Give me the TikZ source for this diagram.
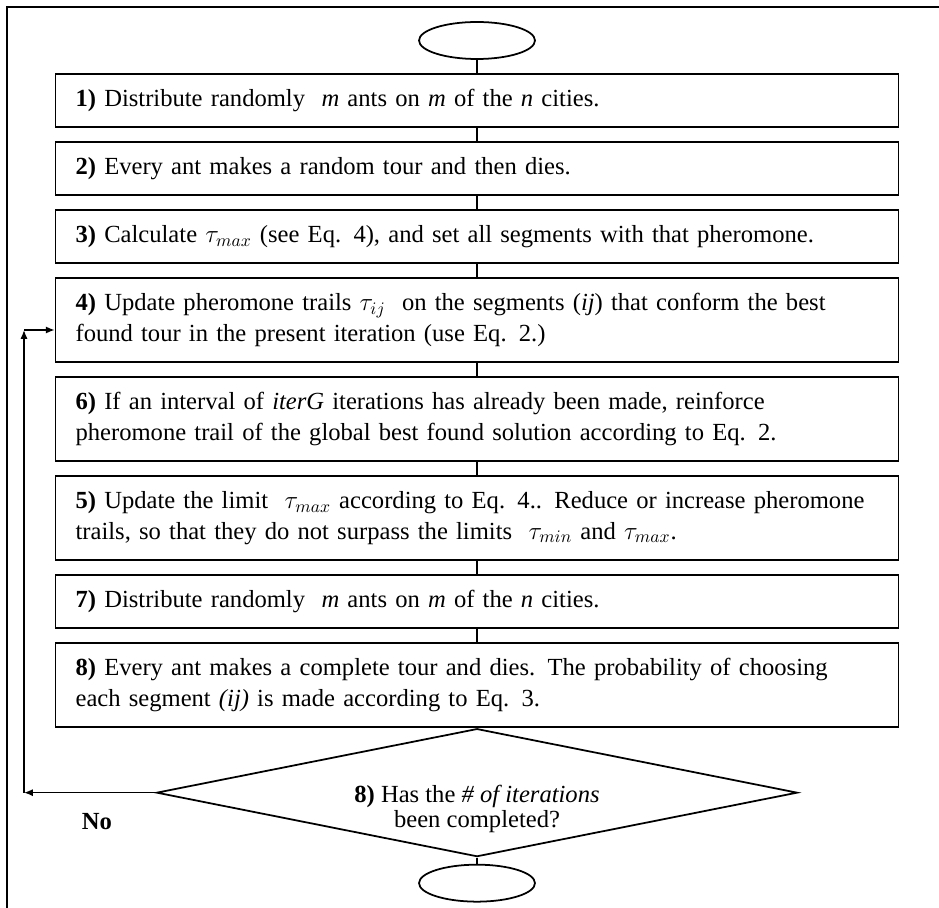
\documentclass[tikz,border=0pt]{standalone}
\usepackage{fontspec}
\setmainfont{Liberation Serif}
\usetikzlibrary{positioning}
\usetikzlibrary{shapes.geometric}
\usetikzlibrary{chains}
\usetikzlibrary{arrows.meta}

\begin{document}
\begin{tikzpicture} [x=0.02cm, y=-0.02cm, start chain=going below, node distance=0.265cm,
  every join/.style={line width=0.8pt},
  stepbox/.style={draw, line width=1pt, text width=16.06cm,
    inner xsep=0.4cm, inner ysep=0pt, align=left, font=\fontsize{14}{17.5}\selectfont},
  onebox/.style={stepbox, minimum height=1.06cm},
  twobox/.style={stepbox, minimum height=1.68cm},
  term/.style={draw, ellipse, line width=1pt, minimum width=2.32cm, minimum height=0.74cm},
  >={Latex[length=5pt,width=4pt]}]

\useasboundingbox (0,0) rectangle (939,908);
\draw [line width=1.2pt] (7,908) -- (7,7) -- (939,7);

\node [on chain, term] (S) at (477,40.5) {};
\node [on chain, join, onebox] (s1)
    {\textbf{1)} Distribute randomly \ \textit{m} ants on \textit{m} of the \textit{n} cities.};
\node [on chain, join, onebox] (s2)
    {\textbf{2)} Every ant makes a random tour and then dies.};
\node [on chain, join, onebox] (s3)
    {\textbf{3)} Calculate $\tau_{max}$ (see Eq. 4), and set all segments with that pheromone.};
\node [on chain, join, twobox] (s4)
    {\textbf{4)} Update pheromone trails $\tau_{ij}$ \ on the segments (\textit{ij}) that conform the best\\
     found tour in the present iteration (use Eq. 2.)};
\node [on chain, join, twobox] (s6)
    {\textbf{6)} If an interval of \textit{iterG} iterations has already been made, reinforce\\
     pheromone trail of the global best found solution according to Eq. 2.};
\node [on chain, join, twobox] (s5)
    {\textbf{5)} Update the limit \ $\tau_{max}$ according to Eq. 4.. Reduce or increase pheromone\\
     trails, so that they do not surpass the limits \ $\tau_{min}$ and $\tau_{max}$.};
\node [on chain, join, onebox] (s7)
    {\textbf{7)} Distribute randomly \ \textit{m} ants on \textit{m} of the \textit{n} cities.};
\node [on chain, join, twobox] (s8)
    {\textbf{8)} Every ant makes a complete tour and dies. The probability of choosing\\
     each segment \textit{(ij)} is made according to Eq. 3.};
\node [node distance=0pt, on chain, draw, diamond, line width=1pt, aspect=5,
    minimum width=12.82cm, minimum height=2.56cm, inner sep=0pt] (Q) {};
\node [node distance=0.125cm, on chain, join, term] (E) {};

\node [align=center, font=\fontsize{14}{14}\selectfont] (Qt) at ([yshift=-0.32cm]Q.center)
    {\textbf{8)} Has the \textit{\# of iterations}\\ been completed?};

% loop back
\coordinate (c1) at (24,330);
\draw [->, line width=0.8pt] (Q.west) -- (Q.west -| c1);
\draw [->, line width=0.8pt] (Q.west -| c1) -- (c1);
\draw [->, line width=0.8pt] (c1) -- (c1 -| s4.west);
\node [font=\fontsize{14}{14}\selectfont\bfseries] (no) at (97,822) {No};

\end{tikzpicture}
\end{document}
